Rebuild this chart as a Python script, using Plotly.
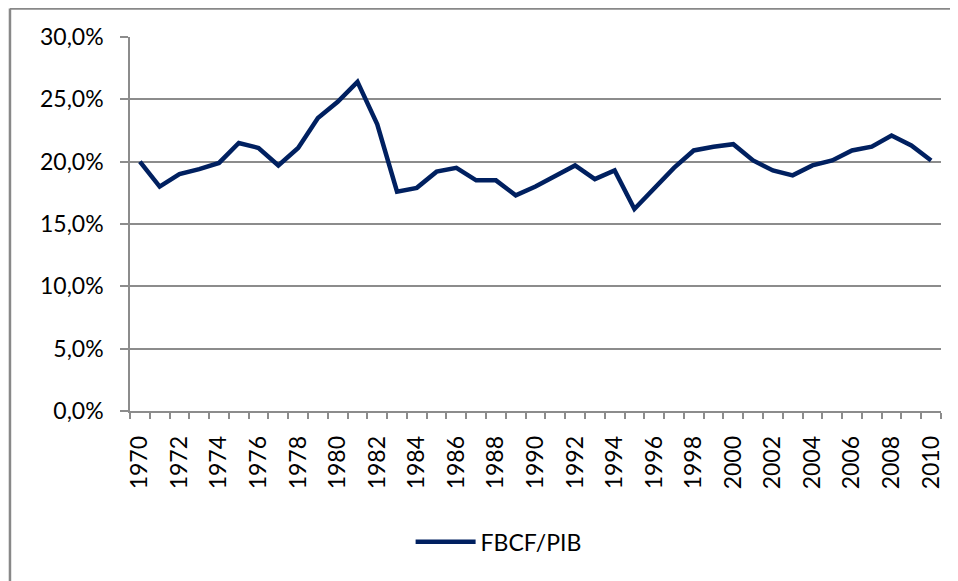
import plotly.graph_objects as go

# FBCF/PIB (%) 1970-2010
anos = list(range(1970, 2011))
fbcf_pib = [
    20.0, 18.0, 19.0, 19.4, 19.9, 21.5, 21.1, 19.7, 21.1, 23.5,
    24.8, 26.4, 23.0, 17.6, 17.9, 19.2, 19.5, 18.5, 18.5, 17.3,
    18.0, 18.8, 19.7, 18.6, 19.3, 16.2, 17.8, 19.5, 20.9, 21.2,
    21.4, 20.1, 19.3, 18.9, 19.7, 20.1, 20.9, 21.2, 22.1, 21.3,
    20.1,
]
y_ticks = [0, 5, 10, 15, 20, 25, 30]
y_labels = ["0,0%", "5,0%", "10,0%", "15,0%", "20,0%", "25,0%", "30,0%"]
x_ticks = anos[::2]

grid = "#8c8c8c"
font = "Lato, Open Sans, sans-serif"

fig = go.Figure()
fig.add_trace(go.Scatter(
    x=anos,
    y=fbcf_pib,
    mode="lines",
    name="FBCF/PIB",
    line=dict(color="#002060", width=4.5),
))

frame = dict(color="#888888", width=2.5)

# a página tem 8px de margem no body, daí as margens compensadas
fig.update_layout(
    width=958,
    height=581,
    margin=dict(l=122, r=25, t=29, b=178),
    paper_bgcolor="white",
    plot_bgcolor="white",
    font=dict(family=font, size=23, color="black"),
    showlegend=True,
    legend=dict(
        orientation="h",
        x=0.346, xanchor="left",
        y=-0.292, yanchor="top",
        itemwidth=60,
        font=dict(size=23),
    ),
    # moldura da área do gráfico (cortada à direita e em baixo)
    shapes=[
        dict(type="line", xref="paper", yref="paper",
             x0=-0.148, x1=1.1, y0=1.0762, y1=1.0762,
             line=frame, layer="above"),
        dict(type="line", xref="paper", yref="paper",
             x0=-0.148, x1=-0.148, y0=-0.6, y1=1.0762,
             line=frame, layer="above"),
    ],
    # fragmento do título cortado no topo
    annotations=[dict(
        text="(%)", xref="paper", yref="paper",
        x=0.657, y=1.083, xanchor="center", yanchor="bottom",
        showarrow=False, font=dict(size=23),
    )],
)

fig.update_xaxes(
    range=[1969.5, 2010.5],
    tickmode="array",
    tickvals=x_ticks,
    ticktext=[str(a) for a in x_ticks],
    tickangle=-90,
    ticks="",
    ticklabelstandoff=14,
    showgrid=False,
    showline=True,
    linecolor=grid,
    linewidth=1.5,
    zeroline=False,
    minor=dict(
        tickmode="linear", tick0=1969.5, dtick=1,
        ticks="outside", ticklen=6, tickcolor=grid, tickwidth=1.5,
        showgrid=False,
    ),
)

fig.update_yaxes(
    range=[0, 30],
    tickmode="array",
    tickvals=y_ticks,
    ticktext=y_labels,
    ticks="outside",
    ticklen=8,
    tickcolor=grid,
    tickwidth=1.5,
    ticklabelstandoff=12,
    showgrid=True,
    gridcolor=grid,
    gridwidth=1.5,
    showline=True,
    linecolor=grid,
    linewidth=1.5,
    zeroline=False,
)

fig.write_html("out.html", config={"displayModeBar": False})
